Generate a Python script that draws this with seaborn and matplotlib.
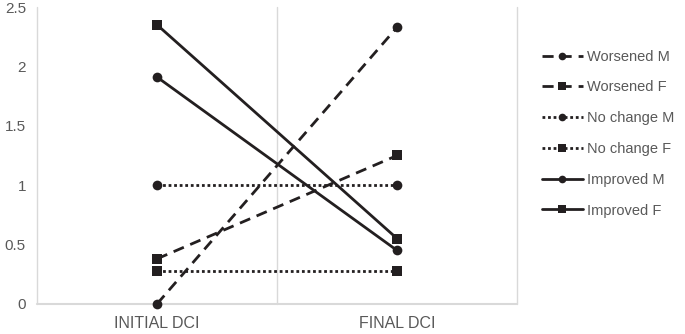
import matplotlib
matplotlib.use("Agg")
import matplotlib.pyplot as plt
import numpy as np
import pandas as pd
import seaborn as sns

# values
timepoints = ["INITIAL DCI", "FINAL DCI"]
groups = ["Worsened M", "Worsened F", "No change M", "No change F", "Improved M", "Improved F"]
initial_dci = [0.0, 0.38, 1.0, 0.28, 1.91, 2.35]
final_dci = [2.33, 1.25, 1.0, 0.28, 0.45, 0.55]
y_ticks = [0, 0.5, 1, 1.5, 2, 2.5]
y_tick_labels = ["0", "0.5", "1", "1.5", "2", "2.5"]

INK = "#231f20"
GREY_TXT = "#595959"
GRID = "#d9d9d9"

df = pd.DataFrame({
    "group": groups * 2,
    "time": [timepoints[0]] * len(groups) + [timepoints[1]] * len(groups),
    "dci": initial_dci + final_dci,
})

markers = {g: ("o" if g.endswith("M") else "s") for g in groups}
dashes = {}
for g in groups:
    if g.startswith("Worsened"):
        dashes[g] = (4, 2.5)
    elif g.startswith("No change"):
        dashes[g] = (1, 1)
    else:
        dashes[g] = ""

sns.set_theme(style="white")
plt.rcParams["font.family"] = ["Liberation Sans", "DejaVu Sans"]

fig = plt.figure(figsize=(6.85, 3.34), dpi=100)
ax = fig.add_axes([0.054, 0.09, 0.701, 0.889])

sns.lineplot(data=df, x="time", y="dci", style="group", style_order=groups,
             markers=markers, dashes=dashes, color=INK, linewidth=2,
             markersize=7, markeredgewidth=0, ax=ax, legend=True, sort=False)

ax.set_xlim(-0.5, 1.5)
ax.set_ylim(0, 2.5)
ax.set_yticks(y_ticks)
ax.set_yticklabels(y_tick_labels)
ax.set_xlabel("")
ax.set_ylabel("")
ax.tick_params(axis="y", colors=GREY_TXT, labelsize=11, length=0, pad=8)
ax.tick_params(axis="x", colors=GREY_TXT, labelsize=11.5, length=0, pad=9)

for name, sp in ax.spines.items():
    sp.set_visible(False)
ax.axhline(0, color=GRID, lw=1.5, zorder=0)
for xv in [-0.5, 0.5, 1.5]:
    ax.axvline(xv, color=GRID, lw=1, zorder=0)
for line in ax.lines:
    line.set_clip_on(False)

handles, labels = ax.get_legend_handles_labels()
ax.get_legend().remove()
for h in handles:
    h.set_markersize(5.5)
fig.legend(handles, labels, loc="center left", bbox_to_anchor=(0.772, 0.6),
           frameon=False, fontsize=10.5, labelcolor=GREY_TXT, handlelength=2.8,
           handletextpad=0.3, labelspacing=1.15)

fig.savefig("out.png", dpi=100)
